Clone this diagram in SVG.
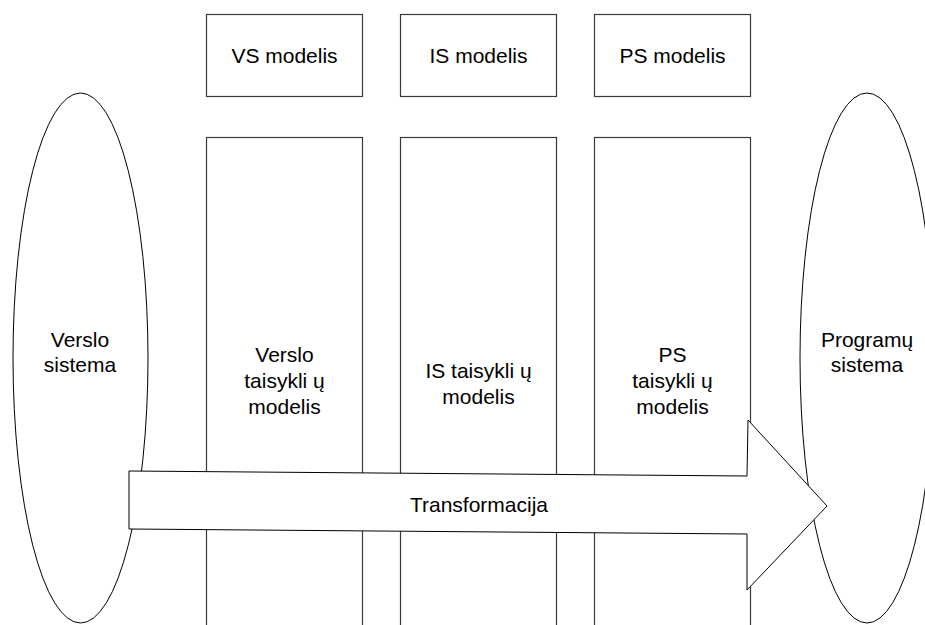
<svg xmlns="http://www.w3.org/2000/svg" width="925" height="625" viewBox="0 0 925 625">
<style>
.box{fill:#fff;stroke:#3a3a3a;stroke-width:1.2}
.ell{fill:#fff;stroke:#000;stroke-width:1}
.arrow{fill:#fff;stroke:#000;stroke-width:1}
text{font-family:"Liberation Sans",Arial,sans-serif;font-size:21px;fill:#000;text-anchor:middle}
</style>
<rect width="925" height="625" fill="#fff"/>
<g id="verslo-sistema">
<ellipse class="ell" cx="80.5" cy="358" rx="67.5" ry="265"/>
<text x="80" y="347">Verslo</text>
<text x="80" y="372">sistema</text>
</g>
<g id="programu-sistema">
<ellipse class="ell" cx="867" cy="358" rx="67" ry="265"/>
<text x="867" y="347">Programų</text>
<text x="867" y="372">sistema</text>
</g>
<g id="vs-modelis">
<rect class="box" x="206.5" y="14.5" width="156" height="82"/>
<text x="284.5" y="63">VS modelis</text>
</g>
<g id="is-modelis">
<rect class="box" x="400.5" y="14.5" width="156" height="82"/>
<text x="478.5" y="63">IS modelis</text>
</g>
<g id="ps-modelis">
<rect class="box" x="594.5" y="14.5" width="156" height="82"/>
<text x="672.5" y="63">PS modelis</text>
</g>
<g id="verslo-taisykliu">
<rect class="box" x="206.5" y="137.5" width="156" height="520"/>
<text x="284.5" y="362">Verslo</text>
<text x="284.5" y="388">taisykli ų</text>
<text x="284.5" y="414">modelis</text>
</g>
<g id="is-taisykliu">
<rect class="box" x="400.5" y="137.5" width="156" height="520"/>
<text x="478.5" y="378">IS taisykli ų</text>
<text x="478.5" y="404">modelis</text>
</g>
<g id="ps-taisykliu">
<rect class="box" x="594.5" y="137.5" width="156" height="520"/>
<text x="672.5" y="362">PS</text>
<text x="672.5" y="388">taisykli ų</text>
<text x="672.5" y="414">modelis</text>
</g>
<g id="connectors">
<g id="transformacija">
<polygon class="arrow" points="129,471 747,476 748,420 827,506 747,590 747,534 129,529"/>
<text x="479" y="512">Transformacija</text>
</g>
</g>
</svg>
